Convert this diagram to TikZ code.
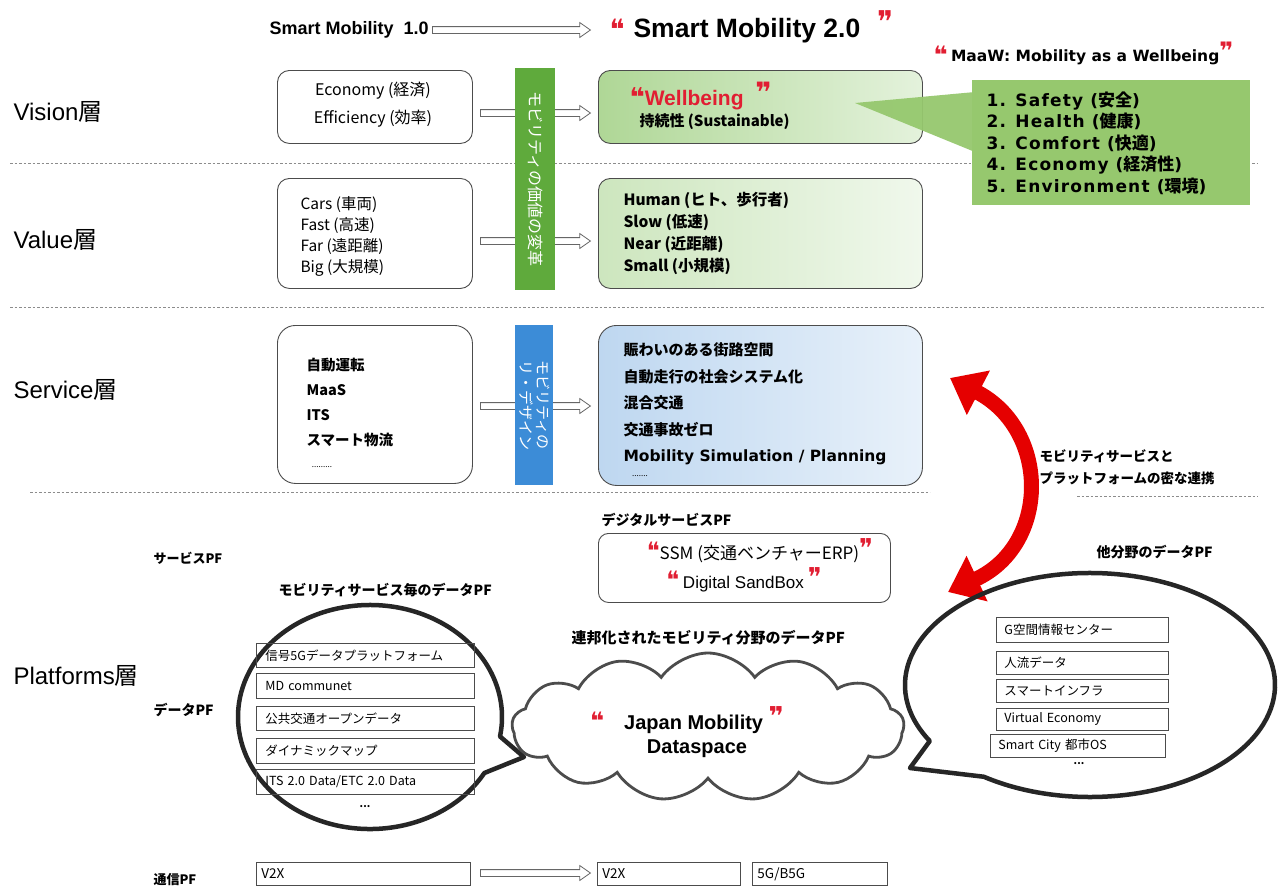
\documentclass[tikz,border=0pt]{standalone}
\usepackage{fontspec}
\setmainfont{Noto Sans CJK JP}
\newfontfamily\arl{Liberation Sans}
\newfontfamily\djv{DejaVu Sans}
\newfontfamily\djw{DejaVu Sans}[LetterSpace=7]
\usetikzlibrary{shapes.symbols,shapes.arrows,arrows.meta}
\definecolor{qred}{RGB}{225,30,50}
\definecolor{barg}{RGB}{95,170,60}
\definecolor{barb}{RGB}{60,140,215}
\definecolor{maaw}{RGB}{150,200,110}
\definecolor{gl1}{RGB}{175,215,150}
\definecolor{gl2}{RGB}{228,242,220}
\definecolor{vl1}{RGB}{205,230,190}
\definecolor{vl2}{RGB}{240,248,236}
\definecolor{bl1}{RGB}{190,215,240}
\definecolor{bl2}{RGB}{232,241,250}
\newcommand\fsz[2]{\fontsize{#1}{#2}\selectfont}
\newcommand\oq[1]{{\djv\fontsize{#1}{#1}\selectfont\color{qred}❝}}
\newcommand\cq[1]{{\djv\fontsize{#1}{#1}\selectfont\color{qred}❞}}
\newcommand\mitem[2]{{\djw\bfseries #1 (}#2{\djw\bfseries )}}
\begin{document}
\begin{tikzpicture}[x=1pt,y=-1pt,
  lbl/.style={anchor=west,font=\fsz{24}{28}},
  rbox/.style={draw=black!70,line width=0.9,rounded corners=12,inner sep=0,anchor=north west},
  harr/.style={single arrow,draw=black!60,fill=white,line width=0.8,inner xsep=0,inner ysep=3,minimum width=14,single arrow head extend=4,single arrow tip angle=70,anchor=tail},
  ibox/.style={draw=black!70,line width=0.9,anchor=north west,inner sep=0,align=left,font=\fsz{12.5}{14}},
  pf/.style={anchor=west,font=\bfseries\fsz{14}{16}},
  txt/.style={anchor=west,align=left},
  sep/.style={draw=black!45,line width=0.8,dash pattern=on 2.5 off 2},
  bubble/.style={draw=black!85,line width=4.5,line join=round},
  bar/.style={inner sep=0,anchor=north west}
]
\useasboundingbox (0,0) rectangle (1282,889);
\fill[white] (0,0) rectangle (1282,889);

% separators
\draw[sep] (10,163) -- (1258,163);
\draw[sep] (10,307) -- (1265,307);
\draw[sep] (30,492) -- (930,492);
\draw[sep] (1077,496) -- (1258,496);

% row labels
\node[lbl] (lvis) at (10,112) {{\arl Vision}層};
\node[lbl] (lval) at (10,240) {{\arl Value}層};
\node[lbl] (lsrv) at (10,390) {{\arl Service}層};
\node[lbl] (lplt) at (10,676) {{\arl Platforms}層};

% title
\node[anchor=west,font=\arl\bfseries\fsz{18}{20}] (sm1) at (266,30) {Smart Mobility\ \ 1.0};
\node[harr,minimum height=158] (a0) at (432,30) {};
\node[anchor=west] (q1) at (606,29) {\oq{28}};
\node[anchor=west,font=\arl\bfseries\fsz{26.5}{28}] (sm2) at (630,31) {Smart Mobility 2.0};
\node[anchor=west] (q2) at (874,22) {\cq{30}};
\node[anchor=west,font=\bfseries\fsz{15}{17}] (mttl) at (930,53) {\raisebox{-2pt}{\oq{24}}\ {\djv\bfseries\fsz{15.5}{17}MaaW: Mobility as a Wellbeing}\raisebox{2pt}{\cq{24}}};

% arrows between columns
\node[harr,minimum height=110] (a1) at (480,113) {};
\node[harr,minimum height=110] (a2) at (480,241) {};
\node[harr,minimum height=110] (a3) at (480,406) {};

% vision
\node[rbox,minimum width=195,minimum height=73] (vl) at (277,70) {};
\node[align=center,font=\fsz{16}{28}] (vlt) at (373,105) {Economy (経済)\\Efficiency (効率)};
\node[rbox,left color=gl1,right color=gl2,minimum width=324,minimum height=73] (vr) at (598,70) {};
\node[txt,font=\arl\bfseries\fsz{21}{22},text=qred] (wb) at (626,96) {\raisebox{-1pt}{\oq{26}}Wellbeing\ \ \raisebox{3pt}{\cq{28}}};
\node[txt,font=\bfseries\fsz{15}{17}] (sus) at (636,122) {持続性 (Sustainable)};

% MaaW callout
\fill[maaw,opacity=0.95] (855,103) -- (975,92) -- (975,152) -- cycle;
\node[fill=maaw,bar,minimum width=278,minimum height=125] (maaw) at (972,80) {};
\node[txt,font=\bfseries\fsz{17}{21.5}] (mtxt) at (983,143) {\mitem{1. Safety}{安全}\\\mitem{2. Health}{健康}\\\mitem{3. Comfort}{快適}\\\mitem{4. Economy}{経済性}\\\mitem{5. Environment}{環境}};

% value
\node[rbox,minimum width=195,minimum height=110] (val) at (277,178) {};
\node[txt,font=\fsz{15.5}{21}] (valt) at (297,236.5) {Cars (車両)\\Fast (高速)\\Far (遠距離)\\Big (大規模)};
\node[rbox,left color=vl1,right color=vl2,minimum width=324,minimum height=110] (var) at (598,178) {};
\node[txt,font=\bfseries\fsz{15.5}{22}] (vart) at (620,233.5) {Human (ヒト、歩行者)\\Slow (低速)\\Near (近距離)\\Small (小規模)};

% service
\node[rbox,rounded corners=18,minimum width=195,minimum height=158] (sl) at (277,325) {};
\node[txt,font=\bfseries\fsz{14.5}{25}] (slt) at (303,402) {自動運転\\MaaS\\ITS\\スマート物流};
\node[font=\fsz{8}{8}] (sld) at (322,467) {.........};
\node[rbox,rounded corners=18,left color=bl1,right color=bl2,minimum width=324,minimum height=160] (sr) at (598,325) {};
\node[txt,font=\bfseries\fsz{15}{26.5}] (srt) at (620,404) {賑わいのある街路空間\\自動走行の社会システム化\\混合交通\\交通事故ゼロ\\{\djv\bfseries\fsz{15.5}{26.5}Mobility Simulation / Planning}};
\node[font=\fsz{8}{8}] (srd) at (640,476) {.......};

% bars
\node[fill=barg,bar,minimum width=40,minimum height=222] (gbar) at (515,68) {};
\node[rotate=-90,text=white,font=\fsz{16}{17}] (gtxt) at (gbar.center) {モビリティの価値の変革};
\node[fill=barb,bar,minimum width=38,minimum height=160] (bbar) at (515,325) {};
\node[rotate=-90,text=white,font=\fsz{15}{17},align=center] (btxt) at (bbar.center) {モビリティの\\リ・デザイン};

% red double arrow
\coordinate (ra1) at (950,378);
\coordinate (ra2) at (948,592);
\draw[red!90!black,line width=15,{Triangle[length=32,width=48]}-{Triangle[length=32,width=48]}] (ra1) .. controls (1050,430) and (1050,545) .. (ra2);
\node[txt,font=\bfseries\fsz{13.5}{22}] (link) at (1036,467) {モビリティサービスと\\プラットフォームの密な連携};

% platforms labels
\node[pf] (dspf) at (598,520) {デジタルサービスPF};
\node[pf,font=\bfseries\fsz{13}{15}] (spf) at (150,558) {サービスPF};
\node[pf] (opf) at (1093,552) {他分野のデータPF};
\node[pf] (mpf) at (275,590) {モビリティサービス毎のデータPF};
\node[pf] (dpf) at (150,710) {データPF};
\node[pf,font=\bfseries\fsz{15}{17}] (fpf) at (568,638) {連邦化されたモビリティ分野のデータPF};
\node[pf,font=\bfseries\fsz{13}{15}] (tpf) at (150,880) {通信PF};

% digital service box
\node[rbox,rounded corners=10,minimum width=292,minimum height=69] (dsb) at (598,533) {};
\node[font=\fsz{17}{18}] (ssm) at (760,551) {\oq{24}SSM (交通ベンチャーERP)\raisebox{2pt}{\cq{26}}};
\node[font=\fsz{17}{18}] (sbx) at (744,580) {\oq{24}\ {\arl Digital SandBox}\ \raisebox{2pt}{\cq{26}}};

% speech bubbles
\draw[bubble] (370,717) ++(30:132 and 112) arc[start angle=30,end angle=370,x radius=132,y radius=112] -- (524,757) -- cycle;
\draw[bubble] (1090,685) ++(150:185 and 112) arc[start angle=150,end angle=485,x radius=185,y radius=112] -- (910,768) -- cycle;

% cloud
\node[cloud,cloud puffs=13,cloud puff arc=110,draw=black!70,line width=2.8,fill=white,minimum width=392,minimum height=148,inner sep=0] (jmd) at (708,727) {};
\node[font=\arl\bfseries\fsz{20}{22}] (jm1) at (687,720) {\oq{24}\quad Japan Mobility\ \raisebox{4pt}{\cq{26}}};
\node[font=\arl\bfseries\fsz{20}{22}] (jm2) at (697,749) {Dataspace};

% left data items
\node[ibox,minimum width=218,minimum height=24,text width=200] (d1) at (256,643) {信号5Gデータプラットフォーム};
\node[ibox,minimum width=218,minimum height=25,text width=200] (d2) at (256,673) {MD communet};
\node[ibox,minimum width=218,minimum height=24,text width=200] (d3) at (256,706) {公共交通オープンデータ};
\node[ibox,minimum width=218,minimum height=25,text width=200] (d4) at (256,738) {ダイナミックマップ};
\node[ibox,minimum width=218,minimum height=25,text width=200] (d5) at (256,769) {ITS 2.0 Data/ETC 2.0 Data};
\node[font=\bfseries\fsz{10}{10}] (ddots) at (365,807) {...};

% right data items
\node[ibox,minimum width=172,minimum height=25,text width=156] (o1) at (996,617) {G空間情報センター};
\node[ibox,minimum width=172,minimum height=23,text width=156] (o2) at (996,651) {人流データ};
\node[ibox,minimum width=172,minimum height=23,text width=156] (o3) at (996,679) {スマートインフラ};
\node[ibox,minimum width=172,minimum height=22,text width=156] (o4) at (996,708) {Virtual Economy};
\node[ibox,minimum width=175,minimum height=23,text width=159] (o5) at (990,734) {Smart City 都市OS};
\node[font=\bfseries\fsz{10}{10}] (odots) at (1079,764) {...};

% communication PF
\node[ibox,minimum width=214,minimum height=23,text width=204,font=\fsz{13.5}{15}] (c1) at (256,862) {V2X};
\node[harr,minimum height=110] (a4) at (480,873) {};
\node[ibox,minimum width=143,minimum height=23,text width=133,font=\fsz{13.5}{15}] (c2) at (597,862) {V2X};
\node[ibox,minimum width=135,minimum height=23,text width=125,font=\fsz{13.5}{15}] (c3) at (752,862) {5G/B5G};
\end{tikzpicture}
\end{document}
